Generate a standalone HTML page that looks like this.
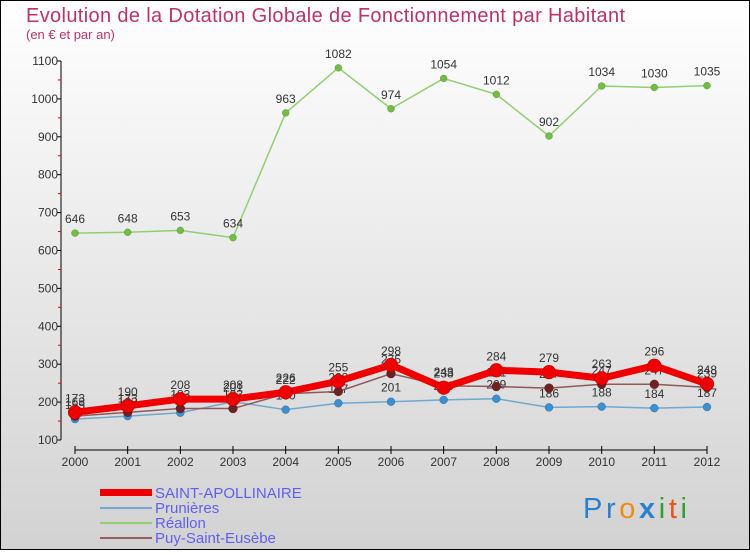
<!DOCTYPE html>
<html><head><meta charset="utf-8"><style>
body{margin:0;width:750px;height:550px;overflow:hidden;font-family:"Liberation Sans",sans-serif}
svg text{font-family:"Liberation Sans",sans-serif}
</style></head><body>
<svg id="chart" width="750" height="550" xmlns="http://www.w3.org/2000/svg">
<defs><linearGradient id="bg" x1="0" y1="0" x2="0" y2="1"><stop offset="0" stop-color="#ffffff"/><stop offset="1" stop-color="#d2d2d2"/></linearGradient></defs>
<rect x="0" y="0" width="750" height="550" fill="url(#bg)" stroke="#000" stroke-width="2"/>
<text x="26" y="22" font-size="20" fill="#c0306a" textLength="599">Evolution de la Dotation Globale de Fonctionnement par Habitant</text>
<text x="26" y="39" font-size="13" fill="#c0306a">(en € et par an)</text>
<g id="axes"></g><g id="series"></g>
<g>
<rect x="100" y="489" width="52" height="7" fill="#e00"/>
<text x="155" y="498" font-size="15" fill="#6060ee">SAINT-APOLLINAIRE</text>
<rect x="100" y="507" width="52" height="2" fill="#70a8d0"/>
<text x="155" y="513" font-size="15" fill="#6060ee">Prunières</text>
<rect x="100" y="522" width="52" height="2" fill="#90d070"/>
<text x="155" y="528" font-size="15" fill="#6060ee">Réallon</text>
<rect x="100" y="537" width="52" height="2" fill="#906060"/>
<text x="155" y="543" font-size="15" fill="#6060ee">Puy-Saint-Eusèbe</text>
</g>
<g font-size="29">
<text x="583" y="518" textLength="104"><tspan fill="#2a80d0">Pr</tspan><tspan fill="#f08a10">o</tspan><tspan fill="#2a80d0" font-weight="bold">x</tspan><tspan fill="#30a030">i</tspan><tspan fill="#f05010">t</tspan><tspan fill="#30a030">i</tspan></text>
</g>
</svg>
<script>
const years=[2000,2001,2002,2003,2004,2005,2006,2007,2008,2009,2010,2011,2012];
const saintApollinaire=[173,190,208,208,226,255,298,238,284,279,263,296,248];
const prunieres=[155,163,172,201,180,197,201,206,209,186,188,184,187];
const reallon=[646,648,653,634,963,1082,974,1054,1012,902,1034,1030,1035];
const puySaintEusebe=[163,173,183,183,222,228,275,243,241,237,247,247,239];
const yTicks=[100,200,300,400,500,600,700,800,900,1000,1100];
const NS="http://www.w3.org/2000/svg";
const xS=i=>75+i*(632/12);
const yS=v=>440-(v-100)*0.379;
function mk(tag,attrs,parent){const e=document.createElementNS(NS,tag);for(const k in attrs)e.setAttribute(k,attrs[k]);parent.appendChild(e);return e;}
const ax=document.getElementById('axes');
let yl=mk('line',{x1:61,y1:yS(1100),x2:61,y2:yS(100),stroke:'#000'},ax);


yTicks.forEach((v,i)=>{
 mk('line',{x1:57,x2:61,y1:yS(v),y2:yS(v),stroke:'#000'},ax);
 if(i<yTicks.length-1) mk('line',{x1:58,x2:61,y1:yS(v+50),y2:yS(v+50),stroke:'#e00'},ax);
 const t=mk('text',{x:58,y:yS(v)+4,'font-size':12,fill:'#333','text-anchor':'end'},ax);
 t.textContent=v;
 
 
});
let xl=mk('line',{x1:xS(0),y1:450,x2:xS(12),y2:450,stroke:'#000'},ax);


years.forEach((y,i)=>{
 mk('line',{x1:xS(i),x2:xS(i),y1:446,y2:454,stroke:'#000'},ax);
 const t=mk('text',{x:xS(i),y:466,'font-size':12,fill:'#333','text-anchor':'middle'},ax);
 t.textContent=y;
 
 
});
const sg=document.getElementById('series');
function draw(vals,name,color,w,r,dot,labels){
 const g=mk('g',{},sg);
 
 
 const pts=vals.map((v,i)=>xS(i)+','+yS(v)).join(' ');
 mk('polyline',{points:pts,fill:'none',stroke:color,'stroke-width':w,'stroke-linejoin':'round'},g);
 vals.forEach((v,i)=>{
  const c=mk('circle',{cx:xS(i),cy:yS(v),r:r,fill:dot,stroke:'rgba(0,0,0,0.3)','stroke-width':0.5},g);
  
  
  if(labels){const t=mk('text',{x:xS(i),y:yS(v)-10,'font-size':12,fill:'#333','text-anchor':'middle'},g);
  t.textContent=v;
  
  }
 });
}
draw(reallon,'reallon','#90d070',1.5,3.5,'#70c040',true);
draw(prunieres,'prunieres','#70a8d0',1.5,4,'#3a90d0',true);
draw(puySaintEusebe,'puy-saint-eusebe','#905858',1.5,4.5,'#702020',true);
draw(saintApollinaire,'saint-apollinaire','#f00000',7,7,'#f00000',true);
</script>
</body></html>
